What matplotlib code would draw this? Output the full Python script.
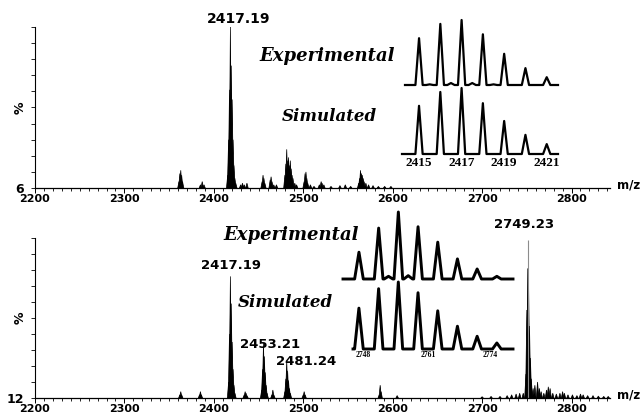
import matplotlib
matplotlib.use("Agg")
import matplotlib.pyplot as plt
from matplotlib.ticker import MultipleLocator

W, H = 644, 416

# ---- data (m/z, relative %) ----
# upper spectrum
top_mz = [2361, 2362, 2363, 2364, 2365, 2385, 2387, 2389,
          2415.5, 2416.5, 2417.5, 2418.5, 2419.5, 2420.5, 2421.5, 2422.5, 2423.5, 2424.5,
          2430, 2432, 2434, 2437,
          2454, 2455, 2456, 2457, 2463, 2464, 2465, 2467, 2470,
          2479.5, 2480.5, 2481.5, 2482.5, 2483.5, 2484.5, 2485.5, 2486.5, 2487.5, 2488.5,
          2490.5, 2492.5,
          2501, 2502, 2503, 2504, 2505, 2508, 2512,
          2518, 2520, 2521, 2523, 2531, 2541, 2547, 2553,
          2562, 2563, 2564, 2565, 2566, 2567, 2568, 2570, 2573, 2578, 2584, 2591, 2598]
top_int = [4, 9, 11, 8, 4, 2, 4, 2,
           8, 30, 61, 100, 76, 55, 30, 14, 6, 3,
           2, 3, 2, 3,
           4, 8, 6, 3, 5, 7, 4, 2, 2,
           8, 15, 24, 17, 19, 14, 17, 12, 8, 6, 3, 2,
           4, 9, 10, 6, 3, 2, 1,
           2, 4, 3, 2, 1, 1.5, 2, 1,
           3, 6, 11, 9, 8, 6, 4, 3, 2, 1.5, 1, 1, 1]

# lower spectrum
bot_mz = [2362, 2363, 2364, 2384, 2385, 2386,
          2416.5, 2417.5, 2418.5, 2419.5, 2420.5, 2421.5, 2422.5, 2423.5,
          2434, 2435, 2436, 2437,
          2453.5, 2454.5, 2455.5, 2456.5, 2457.5, 2458.5, 2459.5, 2465, 2466, 2467,
          2479.5, 2480.5, 2481.5, 2482.5, 2483.5, 2484.5, 2485.5, 2500, 2501, 2502,
          2585, 2586, 2587, 2605,
          2700, 2710, 2720, 2728, 2733, 2738, 2742, 2746,
          2749, 2750, 2751, 2752, 2753, 2754, 2755,
          2757, 2759, 2762, 2764, 2766, 2769, 2772, 2774, 2776, 2779,
          2783, 2787, 2790, 2792, 2796, 2801, 2806, 2810, 2813, 2818,
          2824, 2830, 2836, 2841]
bot_int = [2, 4, 2, 2, 4, 2,
           10, 40, 76, 59, 35, 18, 8, 3,
           2, 4, 3, 1.5,
           5, 18, 34, 26, 16, 8, 3, 2, 5, 2,
           4, 12, 23, 17, 11, 6, 3, 2, 4, 2,
           2, 8, 4, 1.5,
           0.8, 1, 1, 1.5, 2, 2.5, 3, 3,
           15, 55, 81, 70, 45, 25, 12,
           6, 8, 10, 6, 4, 3, 5, 7, 6, 3,
           2.5, 3, 4, 3, 2, 2, 1.5, 2.5, 2, 1.5,
           1.5, 1.2, 1, 1]
apex_mz = [2751.5]
apex_int = [99]

# isotope pattern insets
ins1_mz = [2415, 2415.5, 2416, 2416.5, 2417, 2417.5, 2418, 2418.5, 2419, 2420, 2421]
ins1_exp = [72, 1, 94, 3, 100, 3, 78, 1, 48, 26, 12]
ins1_sim_mz = [2415, 2416, 2417, 2418, 2419, 2420, 2421]
ins1_sim = [73, 94, 100, 77, 50, 29, 15]
ins1_ticks = [2415, 2417, 2419, 2421]

ins2_mz = [2748, 2749, 2749.5, 2750, 2750.5, 2751, 2752, 2753, 2754, 2755]
ins2_exp = [40, 76, 4, 100, 5, 78, 55, 30, 15, 4]
ins2_sim_mz = [2748, 2749, 2750, 2751, 2752, 2753, 2754, 2755]
ins2_sim = [61, 90, 100, 84, 57, 34, 19, 9]
ins2_tick_pos = [2748.2, 2751.5, 2754.65]
ins2_tick_lab = ["2748", "2761", "2774"]

# peak labels: text, m/z of the peak it marks, its height
top_labels = [("2417.19", 2418.5, 100)]
bot_labels = [("2417.19", 2418.5, 76), ("2453.21", 2455.5, 34),
              ("2481.24", 2481.5, 23), ("2749.23", 2751.5, 99)]
# label offsets in pixels (same order as the labels)
top_offs = [(8, 4)]
bot_offs = [(1, 7), (7, -4), (19, -4), (-4, 12)]


def px(x0, y0, w, h):
    # pixel box given by its left/top corner -> figure fraction
    return [x0 / W, 1 - (y0 + h) / H, w / W, h / H]


def fill_peaks(ax, mz, ints, hw, color="black"):
    # every peak is a narrow triangle on the baseline
    for m, v in zip(mz, ints):
        ax.fill([m - hw, m, m + hw], [0, v, 0], color=color, lw=0.5, ec=color)


def line_peaks(ax, mz, ints, hw, x0, x1, lw):
    xs, ys = [x0], [0]
    for m, v in zip(mz, ints):
        xs += [m - hw, m, m + hw]
        ys += [0, v, 0]
    xs.append(x1)
    ys.append(0)
    ax.plot(xs, ys, color="black", lw=lw, solid_joinstyle="round", clip_on=False)
    ax.set_xlim(x0, x1)
    ax.set_ylim(0, 100)
    ax.axis("off")


def main_axes(rect, zero_label):
    ax = fig.add_axes(rect)
    ax.set_xlim(2200, 2843)
    ax.set_ylim(0, 100)
    for s in ["top", "right"]:
        ax.spines[s].set_visible(False)
    ax.spines["left"].set_linewidth(0.8)
    ax.spines["bottom"].set_linewidth(0.9)
    ax.xaxis.set_major_locator(MultipleLocator(100))
    ax.xaxis.set_minor_locator(MultipleLocator(10))
    ax.tick_params(axis="x", which="major", length=3.5, width=0.7, pad=0.5,
                   labelsize=8)
    ax.tick_params(axis="x", which="minor", length=2, width=0.6)
    ax.tick_params(axis="y", length=3, width=0.6, pad=5, labelsize=9)
    ax.set_yticks(range(0, 101, 10))
    ax.set_yticklabels([zero_label] + [""] * 10)
    for t in ax.get_xticklabels() + ax.get_yticklabels():
        t.set_fontweight("bold")
    return ax


def peak_labels(ax, labels, offs, size):
    for (txt, m, v), (dx, dy) in zip(labels, offs):
        ax.annotate(txt, (m, v), xytext=(dx, dy), textcoords="offset pixels",
                    ha="center", va="baseline", fontsize=size,
                    fontweight="bold", annotation_clip=False)


fig = plt.figure(figsize=(W / 100, H / 100), dpi=100)

# ---- upper panel ----
ax1 = main_axes(px(35, 27, 575, 161), "6")
fill_peaks(ax1, top_mz, top_int, 1.4)
peak_labels(ax1, top_labels, top_offs, 10)

# ---- lower panel ----
ax2 = main_axes(px(35, 238, 575, 160), "12")
fill_peaks(ax2, bot_mz, bot_int, 1.4)
ax2.vlines(apex_mz, 0, apex_int, color="0.55", lw=0.8)
peak_labels(ax2, bot_labels, bot_offs, 9.5)

# axis titles
for y in [108, 318]:
    fig.text(20 / W, 1 - y / H, "%", rotation=90, fontsize=9,
             fontweight="bold", ha="center", va="center")
for y in [185, 395]:
    fig.text(617 / W, 1 - y / H, "m/z", fontsize=8.5, fontweight="bold",
             ha="left", va="center")

# ---- isotope insets ----
a = fig.add_axes(px(405, 20, 153, 65))
line_peaks(a, ins1_mz, ins1_exp, 0.17, 2414.34, 2421.53, 1.6)
a = fig.add_axes(px(402, 88, 156, 66))
line_peaks(a, ins1_sim_mz, ins1_sim, 0.17, 2414.2, 2421.53, 1.6)
for t in ins1_ticks:
    a.text(t, -4, str(t), ha="center", va="top", fontsize=9.5,
           family="Liberation Serif", fontweight="bold")

a = fig.add_axes(px(343, 212, 170, 67))
line_peaks(a, ins2_mz, ins2_exp, 0.22, 2747.19, 2755.82, 2.1)
a = fig.add_axes(px(353, 282, 160, 67))
line_peaks(a, ins2_sim_mz, ins2_sim, 0.22, 2747.7, 2755.82, 2.1)
for t, lab in zip(ins2_tick_pos, ins2_tick_lab):
    a.text(t, -3, lab, ha="center", va="top", fontsize=5.5,
           family="Liberation Serif", fontweight="bold")

serif = dict(family="DejaVu Serif", fontweight="bold", fontstyle="italic",
             va="baseline")
fig.text(259 / W, 1 - 61 / H, "Experimental", fontsize=13, **serif)
fig.text(282 / W, 1 - 121 / H, "Simulated", fontsize=12, **serif)
fig.text(223 / W, 1 - 240 / H, "Experimental", fontsize=13, **serif)
fig.text(238 / W, 1 - 307 / H, "Simulated", fontsize=12, **serif)

fig.savefig("out.png", dpi=100)
